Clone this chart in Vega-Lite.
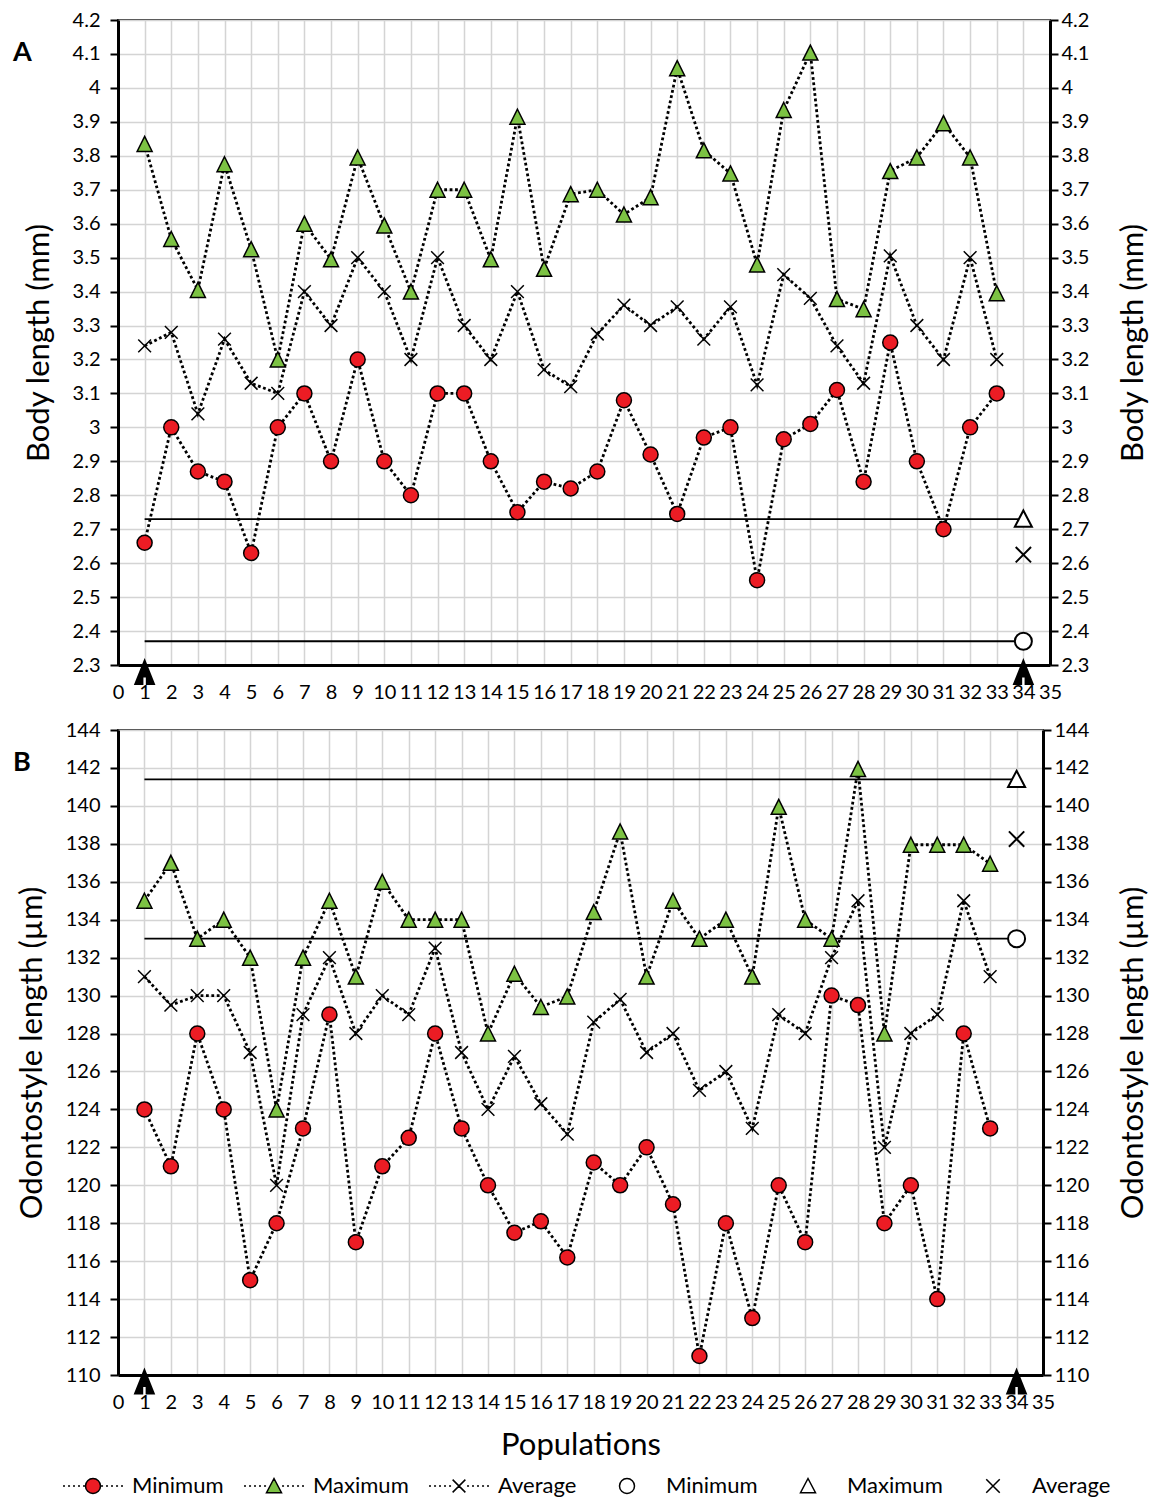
{
 "$schema": "https://vega.github.io/schema/vega-lite/v6.json",
 "padding": {"left": 12, "top": 9, "right": 5, "bottom": 5},
 "config": {
  "font": "Lato",
  "view": {"stroke": "#333333", "strokeWidth": 2},
  "axis": {"labelColor": "black", "titleColor": "black", "labelFontSize": 20, "titleFontWeight": "normal", "labelOverlap": false, "labelFlush": false, "labelBound": false, "domainColor": "black", "domainWidth": 3, "gridColor": "#d4d4d4", "gridWidth": 1.5, "tickColor": "black", "tickWidth": 2, "tickSize": 8},
  "legend": {"orient": "none", "legendX": -58, "legendY": 1455, "direction": "horizontal", "labelFontSize": 22, "labelColor": "black", "symbolSize": 225, "symbolStrokeWidth": 1.5, "columnPadding": 17, "labelOffset": 28, "symbolOffset": 22}
 },
 "datasets": {
  "seriesA": [
   {"p":1,"s":"min","v":2.66},{"p":2,"s":"min","v":3.0},{"p":3,"s":"min","v":2.87},{"p":4,"s":"min","v":2.84},{"p":5,"s":"min","v":2.63},{"p":6,"s":"min","v":3.0},{"p":7,"s":"min","v":3.1},{"p":8,"s":"min","v":2.9},{"p":9,"s":"min","v":3.2},{"p":10,"s":"min","v":2.9},{"p":11,"s":"min","v":2.8},{"p":12,"s":"min","v":3.1},{"p":13,"s":"min","v":3.1},{"p":14,"s":"min","v":2.9},{"p":15,"s":"min","v":2.75},{"p":16,"s":"min","v":2.84},{"p":17,"s":"min","v":2.82},{"p":18,"s":"min","v":2.87},{"p":19,"s":"min","v":3.08},{"p":20,"s":"min","v":2.92},{"p":21,"s":"min","v":2.745},{"p":22,"s":"min","v":2.97},{"p":23,"s":"min","v":3.0},{"p":24,"s":"min","v":2.55},{"p":25,"s":"min","v":2.965},{"p":26,"s":"min","v":3.01},{"p":27,"s":"min","v":3.11},{"p":28,"s":"min","v":2.84},{"p":29,"s":"min","v":3.25},{"p":30,"s":"min","v":2.9},{"p":31,"s":"min","v":2.7},{"p":32,"s":"min","v":3.0},{"p":33,"s":"min","v":3.1},
   {"p":1,"s":"max","v":3.835},{"p":2,"s":"max","v":3.555},{"p":3,"s":"max","v":3.405},{"p":4,"s":"max","v":3.775},{"p":5,"s":"max","v":3.525},{"p":6,"s":"max","v":3.2},{"p":7,"s":"max","v":3.6},{"p":8,"s":"max","v":3.495},{"p":9,"s":"max","v":3.795},{"p":10,"s":"max","v":3.595},{"p":11,"s":"max","v":3.4},{"p":12,"s":"max","v":3.7},{"p":13,"s":"max","v":3.7},{"p":14,"s":"max","v":3.495},{"p":15,"s":"max","v":3.915},{"p":16,"s":"max","v":3.467},{"p":17,"s":"max","v":3.687},{"p":18,"s":"max","v":3.7},{"p":19,"s":"max","v":3.627},{"p":20,"s":"max","v":3.678},{"p":21,"s":"max","v":4.058},{"p":22,"s":"max","v":3.816},{"p":23,"s":"max","v":3.748},{"p":24,"s":"max","v":3.48},{"p":25,"s":"max","v":3.935},{"p":26,"s":"max","v":4.104},{"p":27,"s":"max","v":3.378},{"p":28,"s":"max","v":3.348},{"p":29,"s":"max","v":3.755},{"p":30,"s":"max","v":3.795},{"p":31,"s":"max","v":3.896},{"p":32,"s":"max","v":3.795},{"p":33,"s":"max","v":3.395},
   {"p":1,"s":"avg","v":3.24},{"p":2,"s":"avg","v":3.28},{"p":3,"s":"avg","v":3.04},{"p":4,"s":"avg","v":3.26},{"p":5,"s":"avg","v":3.13},{"p":6,"s":"avg","v":3.1},{"p":7,"s":"avg","v":3.4},{"p":8,"s":"avg","v":3.3},{"p":9,"s":"avg","v":3.5},{"p":10,"s":"avg","v":3.4},{"p":11,"s":"avg","v":3.2},{"p":12,"s":"avg","v":3.5},{"p":13,"s":"avg","v":3.3},{"p":14,"s":"avg","v":3.2},{"p":15,"s":"avg","v":3.4},{"p":16,"s":"avg","v":3.17},{"p":17,"s":"avg","v":3.12},{"p":18,"s":"avg","v":3.275},{"p":19,"s":"avg","v":3.36},{"p":20,"s":"avg","v":3.3},{"p":21,"s":"avg","v":3.355},{"p":22,"s":"avg","v":3.26},{"p":23,"s":"avg","v":3.355},{"p":24,"s":"avg","v":3.125},{"p":25,"s":"avg","v":3.45},{"p":26,"s":"avg","v":3.38},{"p":27,"s":"avg","v":3.24},{"p":28,"s":"avg","v":3.13},{"p":29,"s":"avg","v":3.505},{"p":30,"s":"avg","v":3.3},{"p":31,"s":"avg","v":3.2},{"p":32,"s":"avg","v":3.5},{"p":33,"s":"avg","v":3.2}
  ],
  "refA": [{"p":34,"s":"rmin","v":2.37},{"p":34,"s":"rmax","v":2.73},{"p":34,"s":"ravg","v":2.625}],
  "linesA": [{"p":1,"p2":34,"v":2.37},{"p":1,"p2":34,"v":2.73}],
  "seriesB": [
   {"p":1,"s":"min","v":124},{"p":2,"s":"min","v":121},{"p":3,"s":"min","v":128},{"p":4,"s":"min","v":124},{"p":5,"s":"min","v":115},{"p":6,"s":"min","v":118},{"p":7,"s":"min","v":123},{"p":8,"s":"min","v":129},{"p":9,"s":"min","v":117},{"p":10,"s":"min","v":121},{"p":11,"s":"min","v":122.5},{"p":12,"s":"min","v":128},{"p":13,"s":"min","v":123},{"p":14,"s":"min","v":120},{"p":15,"s":"min","v":117.5},{"p":16,"s":"min","v":118.1},{"p":17,"s":"min","v":116.2},{"p":18,"s":"min","v":121.2},{"p":19,"s":"min","v":120},{"p":20,"s":"min","v":122},{"p":21,"s":"min","v":119},{"p":22,"s":"min","v":111},{"p":23,"s":"min","v":118},{"p":24,"s":"min","v":113},{"p":25,"s":"min","v":120},{"p":26,"s":"min","v":117},{"p":27,"s":"min","v":130},{"p":28,"s":"min","v":129.5},{"p":29,"s":"min","v":118},{"p":30,"s":"min","v":120},{"p":31,"s":"min","v":114},{"p":32,"s":"min","v":128},{"p":33,"s":"min","v":123},
   {"p":1,"s":"max","v":135},{"p":2,"s":"max","v":137},{"p":3,"s":"max","v":133},{"p":4,"s":"max","v":134},{"p":5,"s":"max","v":132},{"p":6,"s":"max","v":124},{"p":7,"s":"max","v":132},{"p":8,"s":"max","v":135},{"p":9,"s":"max","v":131},{"p":10,"s":"max","v":136},{"p":11,"s":"max","v":134},{"p":12,"s":"max","v":134},{"p":13,"s":"max","v":134},{"p":14,"s":"max","v":128},{"p":15,"s":"max","v":131.15},{"p":16,"s":"max","v":129.4},{"p":17,"s":"max","v":129.95},{"p":18,"s":"max","v":134.4},{"p":19,"s":"max","v":138.65},{"p":20,"s":"max","v":131},{"p":21,"s":"max","v":135},{"p":22,"s":"max","v":133},{"p":23,"s":"max","v":134},{"p":24,"s":"max","v":131},{"p":25,"s":"max","v":139.95},{"p":26,"s":"max","v":134},{"p":27,"s":"max","v":133},{"p":28,"s":"max","v":141.95},{"p":29,"s":"max","v":128},{"p":30,"s":"max","v":137.95},{"p":31,"s":"max","v":137.95},{"p":32,"s":"max","v":137.95},{"p":33,"s":"max","v":136.95},
   {"p":1,"s":"avg","v":131},{"p":2,"s":"avg","v":129.5},{"p":3,"s":"avg","v":130},{"p":4,"s":"avg","v":130},{"p":5,"s":"avg","v":127},{"p":6,"s":"avg","v":120},{"p":7,"s":"avg","v":129},{"p":8,"s":"avg","v":132},{"p":9,"s":"avg","v":128},{"p":10,"s":"avg","v":130},{"p":11,"s":"avg","v":129},{"p":12,"s":"avg","v":132.5},{"p":13,"s":"avg","v":127},{"p":14,"s":"avg","v":124},{"p":15,"s":"avg","v":126.8},{"p":16,"s":"avg","v":124.3},{"p":17,"s":"avg","v":122.7},{"p":18,"s":"avg","v":128.6},{"p":19,"s":"avg","v":129.8},{"p":20,"s":"avg","v":127},{"p":21,"s":"avg","v":128},{"p":22,"s":"avg","v":125},{"p":23,"s":"avg","v":126},{"p":24,"s":"avg","v":123},{"p":25,"s":"avg","v":129},{"p":26,"s":"avg","v":128},{"p":27,"s":"avg","v":132},{"p":28,"s":"avg","v":135},{"p":29,"s":"avg","v":122},{"p":30,"s":"avg","v":128},{"p":31,"s":"avg","v":129},{"p":32,"s":"avg","v":135},{"p":33,"s":"avg","v":131}
  ],
  "refB": [{"p":34,"s":"rmin","v":133.0},{"p":34,"s":"rmax","v":141.4},{"p":34,"s":"ravg","v":138.25}],
  "linesB": [{"p":1,"p2":34,"v":133.0},{"p":1,"p2":34,"v":141.4}],
  "arrows": [{"p":1},{"p":34}]
 },
 "resolve": {"scale": {"fill": "shared", "shape": "shared"}, "legend": {"fill": "shared", "shape": "shared"}},
 "spacing": 16,
 "vconcat": [
  {
   "width": 932, "height": 645,
   "title": {"text": "A", "fontSize": 27, "fontWeight": "bold", "color": "black", "anchor": "start", "frame": "group", "dx": -105, "dy": 78, "offset": 0, "baseline": "alphabetic"},
   "resolve": {"scale": {"y": "independent"}},
   "layer": [
    {
     "data": {"name": "seriesA"},
     "layer": [
      {
       "mark": {"type": "line", "color": "black", "strokeWidth": 2.8, "strokeDash": [2.8, 2.6]},
       "encoding": {
        "x": {"field": "p", "type": "quantitative", "scale": {"domain": [0, 35], "nice": false, "zero": false},
              "axis": {"values": [0,1,2,3,4,5,6,7,8,9,10,11,12,13,14,15,16,17,18,19,20,21,22,23,24,25,26,27,28,29,30,31,32,33,34,35], "format": "d", "tickCount": 100, "grid": true, "ticks": false, "tickSize": 0, "labelPadding": 17, "title": null}},
        "y": {"field": "v", "type": "quantitative", "scale": {"domain": [2.3, 4.2], "nice": false, "zero": false},
              "axis": {"values": [2.3,2.4,2.5,2.6,2.7,2.8,2.9,3.0,3.1,3.2,3.3,3.4,3.5,3.6,3.7,3.8,3.9,4.0,4.1,4.2], "tickCount": 100, "format": "~g", "grid": true, "labelPadding": 10, "title": "Body length (mm)", "titleFontSize": 31, "titlePadding": 17}},
        "detail": {"field": "s"}
       }
      },
      {
       "data": {"name": "linesA"},
       "mark": {"type": "rule", "color": "black", "strokeWidth": 1.8},
       "encoding": {
        "x": {"field": "p", "type": "quantitative"},
        "x2": {"field": "p2"},
        "y": {"field": "v", "type": "quantitative"}
       }
      },
      {
       "transform": [{"filter": "datum.s == 'min'"}],
       "mark": {"type": "point", "filled": true, "opacity": 1, "fill": "#ec1c24", "stroke": "black", "strokeWidth": 1.5, "size": 225, "shape": "circle"},
       "encoding": {"x": {"field": "p", "type": "quantitative"}, "y": {"field": "v", "type": "quantitative"}}
      },
      {
       "transform": [{"filter": "datum.s == 'max'"}],
       "mark": {"type": "point", "filled": true, "opacity": 1, "fill": "#7cc243", "stroke": "black", "strokeWidth": 1.5, "size": 225, "shape": "M0,-1L1,1L-1,1Z"},
       "encoding": {"x": {"field": "p", "type": "quantitative"}, "y": {"field": "v", "type": "quantitative"}}
      },
      {
       "transform": [{"filter": "datum.s == 'avg'"}],
       "mark": {"type": "point", "filled": false, "opacity": 1, "stroke": "black", "strokeWidth": 1.5, "size": 225, "shape": "M-0.85,-0.85L0.85,0.85M0.85,-0.85L-0.85,0.85"},
       "encoding": {"x": {"field": "p", "type": "quantitative"}, "y": {"field": "v", "type": "quantitative"}}
      },
      {
       "data": {"name": "arrows"},
       "mark": {"type": "point", "filled": true, "opacity": 1, "color": "black", "strokeWidth": 0, "size": 729, "yOffset": 6.5, "shape": "M0,-1L0.8,1L0.09,1L0.09,0.45L-0.09,0.45L-0.09,1L-0.8,1Z"},
       "encoding": {
        "x": {"field": "p", "type": "quantitative"},
        "y": {"datum": 2.3, "type": "quantitative"}
       }
      }
     ]
    },
    {
     "data": {"name": "refA"},
     "mark": {"type": "point", "filled": true, "opacity": 1, "stroke": "black", "strokeWidth": 2, "size": 290},
     "encoding": {
      "x": {"field": "p", "type": "quantitative"},
      "y": {"field": "v", "type": "quantitative", "scale": {"domain": [2.3, 4.2], "nice": false, "zero": false},
            "axis": {"orient": "right", "values": [2.3,2.4,2.5,2.6,2.7,2.8,2.9,3.0,3.1,3.2,3.3,3.4,3.5,3.6,3.7,3.8,3.9,4.0,4.1,4.2], "tickCount": 100, "format": "~g", "grid": false, "labelPadding": 3, "title": "Body length (mm)", "titleFontSize": 31, "titlePadding": 30, "titleAngle": 270, "titleBaseline": "top"}},
      "fill": {"field": "s", "type": "nominal", "title": null,
               "scale": {"domain": ["min","max","avg","rmin","rmax","ravg"], "range": ["#ec1c24","#7cc243","black","white","white","white"]},
               "legend": {"orient": "none", "legendX": -58, "legendY": 1455, "direction": "horizontal", "symbolStrokeWidth": 1.5,
                 "labelExpr": "datum.value=='min'||datum.value=='rmin'?'Minimum':datum.value=='max'||datum.value=='rmax'?'Maximum':'Average'",
                 "encode": {"symbols": {"stroke": {"value": "black"}, "strokeWidth": {"value": 1.5}, "size": {"value": 225}}}}},
      "shape": {"field": "s", "type": "nominal", "title": null,
                "scale": {"domain": ["min","max","avg","rmin","rmax","ravg"], "range": [
                  "M-4,0h0.27M-3.33,0h0.27M-2.67,0h0.27M-2,0h0.27M-1.33,0h0.27M1.07,0h0.27M1.73,0h0.27M2.4,0h0.27M3.07,0h0.27M3.73,0h0.27M-1,0A1,1,0,1,1,1,0A1,1,0,1,1,-1,0Z",
                  "M-4,0h0.27M-3.33,0h0.27M-2.67,0h0.27M-2,0h0.27M-1.33,0h0.27M1.07,0h0.27M1.73,0h0.27M2.4,0h0.27M3.07,0h0.27M3.73,0h0.27M0,-1L1,0.9L-1,0.9Z",
                  "M-4,0h0.27M-3.33,0h0.27M-2.67,0h0.27M-2,0h0.27M-1.33,0h0.27M1.07,0h0.27M1.73,0h0.27M2.4,0h0.27M3.07,0h0.27M3.73,0h0.27M-0.85,-0.85L0.85,0.85M0.85,-0.85L-0.85,0.85",
                  "M-1,0A1,1,0,1,1,1,0A1,1,0,1,1,-1,0Z",
                  "M0,-1L1,0.9L-1,0.9Z",
                  "M-0.9,-0.9L0.9,0.9M0.9,-0.9L-0.9,0.9"]},
                "legend": {"orient": "none", "legendX": -58, "legendY": 1455, "direction": "horizontal", "symbolStrokeWidth": 1.5,
                 "labelExpr": "datum.value=='min'||datum.value=='rmin'?'Minimum':datum.value=='max'||datum.value=='rmax'?'Maximum':'Average'",
                 "encode": {"symbols": {"stroke": {"value": "black"}, "strokeWidth": {"value": 1.5}, "size": {"value": 225}}}}}
     }
    }
   ]
  },
  {
   "width": 925, "height": 645,
   "title": {"text": "B", "fontSize": 27, "fontWeight": "bold", "color": "black", "anchor": "start", "frame": "group", "dx": -105, "dy": 78, "offset": 0, "baseline": "alphabetic"},
   "resolve": {"scale": {"y": "independent"}},
   "layer": [
    {
     "data": {"name": "seriesB"},
     "layer": [
      {
       "mark": {"type": "line", "color": "black", "strokeWidth": 2.8, "strokeDash": [2.8, 2.6]},
       "encoding": {
        "x": {"field": "p", "type": "quantitative", "scale": {"domain": [0, 35], "nice": false, "zero": false},
              "axis": {"values": [0,1,2,3,4,5,6,7,8,9,10,11,12,13,14,15,16,17,18,19,20,21,22,23,24,25,26,27,28,29,30,31,32,33,34,35], "format": "d", "tickCount": 100, "grid": true, "ticks": false, "tickSize": 0, "labelPadding": 17, "title": "Populations", "titleFontSize": 31, "titlePadding": 18}},
        "y": {"field": "v", "type": "quantitative", "scale": {"domain": [110, 144], "nice": false, "zero": false},
              "axis": {"values": [110,112,114,116,118,120,122,124,126,128,130,132,134,136,138,140,142,144], "format": "d", "tickCount": 100, "grid": true, "labelPadding": 10, "title": "Odontostyle length (µm)", "titleFontSize": 31, "titlePadding": 17}},
        "detail": {"field": "s"}
       }
      },
      {
       "data": {"name": "linesB"},
       "mark": {"type": "rule", "color": "black", "strokeWidth": 1.8},
       "encoding": {
        "x": {"field": "p", "type": "quantitative"},
        "x2": {"field": "p2"},
        "y": {"field": "v", "type": "quantitative"}
       }
      },
      {
       "transform": [{"filter": "datum.s == 'min'"}],
       "mark": {"type": "point", "filled": true, "opacity": 1, "fill": "#ec1c24", "stroke": "black", "strokeWidth": 1.5, "size": 225, "shape": "circle"},
       "encoding": {"x": {"field": "p", "type": "quantitative"}, "y": {"field": "v", "type": "quantitative"}}
      },
      {
       "transform": [{"filter": "datum.s == 'max'"}],
       "mark": {"type": "point", "filled": true, "opacity": 1, "fill": "#7cc243", "stroke": "black", "strokeWidth": 1.5, "size": 225, "shape": "M0,-1L1,1L-1,1Z"},
       "encoding": {"x": {"field": "p", "type": "quantitative"}, "y": {"field": "v", "type": "quantitative"}}
      },
      {
       "transform": [{"filter": "datum.s == 'avg'"}],
       "mark": {"type": "point", "filled": false, "opacity": 1, "stroke": "black", "strokeWidth": 1.5, "size": 225, "shape": "M-0.85,-0.85L0.85,0.85M0.85,-0.85L-0.85,0.85"},
       "encoding": {"x": {"field": "p", "type": "quantitative"}, "y": {"field": "v", "type": "quantitative"}}
      },
      {
       "data": {"name": "arrows"},
       "mark": {"type": "point", "filled": true, "opacity": 1, "color": "black", "strokeWidth": 0, "size": 729, "yOffset": 6, "shape": "M0,-1L0.8,1L0.09,1L0.09,0.45L-0.09,0.45L-0.09,1L-0.8,1Z"},
       "encoding": {
        "x": {"field": "p", "type": "quantitative"},
        "y": {"datum": 110, "type": "quantitative"}
       }
      }
     ]
    },
    {
     "data": {"name": "refB"},
     "mark": {"type": "point", "filled": true, "opacity": 1, "stroke": "black", "strokeWidth": 2, "size": 290},
     "encoding": {
      "x": {"field": "p", "type": "quantitative"},
      "y": {"field": "v", "type": "quantitative", "scale": {"domain": [110, 144], "nice": false, "zero": false},
            "axis": {"orient": "right", "values": [110,112,114,116,118,120,122,124,126,128,130,132,134,136,138,140,142,144], "format": "d", "tickCount": 100, "grid": false, "labelPadding": 3, "title": "Odontostyle length (µm)", "titleFontSize": 31, "titlePadding": 30, "titleAngle": 270, "titleBaseline": "top"}},
      "fill": {"field": "s", "type": "nominal", "title": null},
      "shape": {"field": "s", "type": "nominal", "title": null}
     }
    }
   ]
  }
 ]
}
